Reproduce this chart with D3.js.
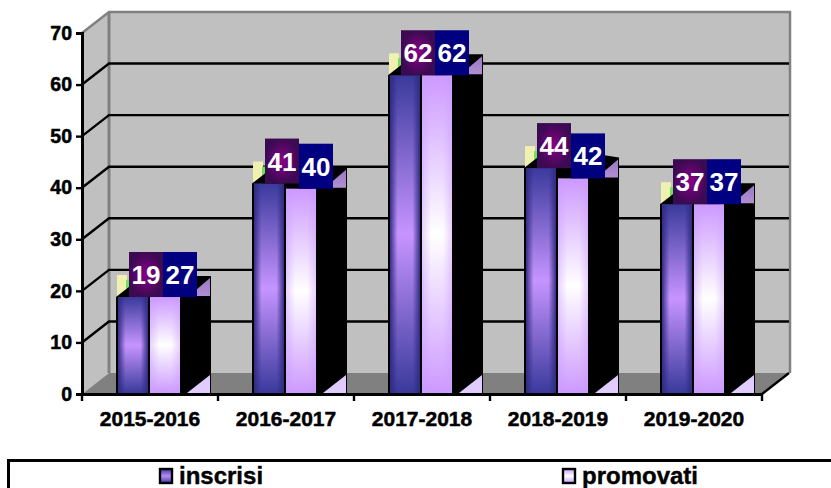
<!DOCTYPE html>
<html><head><meta charset="utf-8">
<script src="https://cdn.jsdelivr.net/npm/d3@7/dist/d3.min.js"></script>
<style>html,body{margin:0;padding:0;background:#fff;overflow:hidden}svg{display:block}
text{font-family:"Liberation Sans",Arial,sans-serif;font-weight:bold}</style>
</head><body><div id="c"></div>
<script>
const categories=["2015-2016","2016-2017","2017-2018","2018-2019","2019-2020"];
const inscrisi=[19,41,62,44,37];
const promovatiLabels=[27,40,62,42,37];
const promovati=[19,40,62,42,37]; // drawn heights as they appear in the picture
const yTicks=[0,10,20,30,40,50,60,70];
const legendNames=["inscrisi","promovati"];

const W=831,H=488, dx=27, dy=-21;
const svg=d3.select("#c").append("svg").attr("width",W).attr("height",H);
const y=d3.scaleLinear().domain([0,70]).range([394,33]);
const x=d3.scaleBand().domain(categories).range([82,762]);
const inner=d3.scaleBand().domain(["inscrisi","promovati"]).range([35,99]);
const defs=svg.append("defs");
function lg(id,stops,vert){const g=defs.append("linearGradient").attr("id",id)
  .attr("x1",0).attr("y1",0).attr("x2",vert?0:1).attr("y2",vert?1:0);
  stops.forEach(s=>g.append("stop").attr("offset",s[0]).attr("stop-color",s[1]).attr("stop-opacity",s[2]===undefined?1:s[2]));}
lg("gI",[[0,"#3a3a9c"],[0.5,"#c694ff"],[1,"#3a3a9c"]],true);
lg("gIh",[[0,"#302a80",.95],[.25,"#302a80",0],[.75,"#302a80",0],[1,"#302a80",.95]],false);
lg("gP",[[0,"#cc99ff"],[0.5,"#ffffff"],[1,"#cc99ff"]],true);
lg("gPh",[[0,"#cc99ff",.45],[.3,"#cc99ff",0],[.7,"#cc99ff",0],[1,"#cc99ff",.45]],false);
lg("gS",[[0,"#9a78c8"],[1,"#b090d0"]],true);
const rl=defs.append("radialGradient").attr("id","gL");
rl.append("stop").attr("offset",0).attr("stop-color","#880088");
rl.append("stop").attr("offset",1).attr("stop-color","#3c0a52");
lg("mI",[[0,"#3a3a9c"],[.5,"#b98cf8"],[1,"#3a3a9c"]],true);
lg("mP",[[0,"#cc99ff"],[.5,"#ffffff"],[1,"#cc99ff"]],true);

const poly=(pts,fill)=>svg.append("polygon").attr("points",pts.map(p=>p.join(",")).join(" ")).attr("fill",fill);
const x0=x.range()[0],x1=x.range()[1],y0=y(0),yT=y(70);
// walls and floor
poly([[x0,yT],[x0+dx,yT+dy],[x0+dx,y0+dy],[x0,y0]],"#c0c0c0");
svg.append("rect").attr("x",x0+dx).attr("y",yT+dy).attr("width",x1-x0).attr("height",y0-yT).attr("fill","#c0c0c0");
poly([[x0,y0],[x0+dx,y0+dy],[x1+dx,y0+dy],[x1,y0]],"#808080");
const gr=svg.append("g").attr("fill","none").attr("stroke","#808080").attr("stroke-width",3);
gr.append("path").attr("d",`M${x0},${yT}L${x0+dx},${yT+dy}L${x1+dx+1},${yT+dy}L${x1+dx+1},${y0+dy}`).attr("stroke-width",2.5);
gr.append("path").attr("d",`M${x0+dx},${yT+dy}V${y0+dy}`);
// gridlines
svg.append("g").selectAll("path").data(yTicks.filter(d=>d>0&&d<70)).join("path")
 .attr("fill","none").attr("stroke","#000").attr("stroke-width",2.4)
 .attr("d",d=>`M${x0},${y(d)}L${x0+dx},${y(d)+dy}H${x1+dx}`);
svg.append("path").attr("d",`M${x1},${y0}L${x1+dx},${y0+dy}`).attr("stroke","#000").attr("stroke-width",2.4);

// bars
const rows=categories.map((c,i)=>({c,a:inscrisi[i],b:promovati[i],la:inscrisi[i],lb:promovatiLabels[i]}));
const g=svg.append("g").selectAll("g").data(rows).join("g").attr("transform",d=>`translate(${x(d.c)},0)`);
const ax=inner("inscrisi"),bx=inner("promovati"),bw=inner.bandwidth(),sideEnd=bx+bw+29;
g.each(function(d){
  const s=d3.select(this), ta=y(d.a)+1, tb=y(d.b)+1;
  const P=(pts,fill)=>s.append("polygon").attr("points",pts.map(p=>p.join(",")).join(" ")).attr("fill",fill);
  // pale top-left scrap
  s.append("rect").attr("x",ax).attr("y",ta+dy-1).attr("width",10).attr("height",-dy).attr("fill","#f0f0b0");
  s.append("rect").attr("x",ax+9).attr("y",ta+dy+4).attr("width",3).attr("height",-dy-4).attr("fill","#70e060");
  // black body
  P([[ax-1,ta],[ax+dx-1,ta+dy],[sideEnd+1,tb+dy],[sideEnd+1,y0],[ax-1,y0]],"#000");
  // right scrap
  P([[sideEnd-14,tb-7],[sideEnd,tb-19],[sideEnd,tb-1],[sideEnd-14,tb-1]],"url(#gS)");
  // floor triangle
  P([[sideEnd-23,y0-1],[sideEnd,y0-19],[sideEnd,y0-1]],"#e0ccff");
  // fronts
  const fr=(xx,t,f,h)=>{
    s.append("rect").attr("x",xx+1).attr("y",t).attr("width",bw-2).attr("height",y0-t-1).attr("fill",f);
    s.append("rect").attr("x",xx+1).attr("y",t).attr("width",bw-2).attr("height",y0-t-1).attr("fill",h);};
  fr(ax,ta,"url(#gI)","url(#gIh)");
  fr(bx,tb,"url(#gP)","url(#gPh)");
  // labels
  const lh=45;
  s.append("rect").attr("x",ax+12).attr("y",ta-lh).attr("width",34).attr("height",lh).attr("fill","url(#gL)");
  s.append("rect").attr("x",ax+46).attr("y",tb-lh).attr("width",34).attr("height",lh).attr("fill","#000080");
  s.append("text").attr("x",ax+29).attr("y",ta-13).attr("text-anchor","middle").attr("font-size",26).attr("fill","#fff").text(d.la);
  s.append("text").attr("x",ax+63).attr("y",tb-13).attr("text-anchor","middle").attr("font-size",26).attr("fill","#fff").text(d.lb);
});

// axes
const yAxis=svg.append("g").attr("transform",`translate(${x0},0)`).call(d3.axisLeft(y).tickValues(yTicks).tickSize(6).tickPadding(4));
const xAxis=svg.append("g").attr("transform",`translate(0,${y0})`).call(d3.axisBottom(x).tickSize(0).tickPadding(14));
xAxis.selectAll("g.tick").append("line").attr("x1",-x.bandwidth()/2).attr("x2",-x.bandwidth()/2).attr("y2",7).attr("stroke","#000").attr("stroke-width",2.4);
xAxis.append("line").attr("x1",x1).attr("x2",x1).attr("y2",7).attr("stroke","#000").attr("stroke-width",2.4);
[yAxis,xAxis].forEach(a=>{a.selectAll("path.domain").attr("stroke","#000").attr("stroke-width",3);
 a.selectAll(".tick line").attr("stroke","#000").attr("stroke-width",2.4);
 a.selectAll("text").attr("fill","#000").attr("stroke","#000").attr("stroke-width",.5)
  .style("font-family",'"Liberation Sans",Arial,sans-serif').style("font-weight","bold");});
yAxis.selectAll("text").attr("font-size",19.5).attr("dy","0.32em");
xAxis.selectAll("text").attr("font-size",21).attr("dy","0.85em");

// legend
svg.append("rect").attr("x",8.5).attr("y",460.5).attr("width",900).attr("height",60).attr("fill","#fff").attr("stroke","#000").attr("stroke-width",3);
const legendX=[159,562];
const lgg=svg.append("g").selectAll("g").data(legendNames).join("g").attr("transform",(d,i)=>`translate(${legendX[i]},0)`);
lgg.append("rect").attr("x",1).attr("y",469).attr("width",12).attr("height",14).attr("fill",(d,i)=>i?"url(#mP)":"url(#mI)").attr("stroke","#000").attr("stroke-width",2.4);
lgg.append("text").attr("x",20).attr("y",484).attr("font-size",24).attr("fill","#000").attr("stroke","#000").attr("stroke-width",.4).text(d=>d);
</script></body></html>
